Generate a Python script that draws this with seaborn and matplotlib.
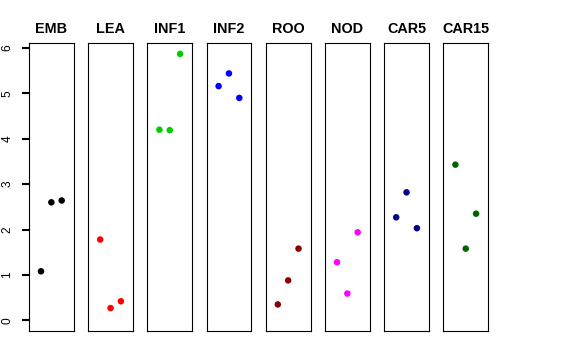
import numpy as np
import pandas as pd
import matplotlib
matplotlib.use("Agg")
import matplotlib.pyplot as plt
import seaborn as sns

# tissues and replicate values
tissues = ["EMB", "LEA", "INF1", "INF2", "ROO", "NOD", "CAR5", "CAR15"]
emb = [1.08, 2.60, 2.64]
lea = [1.78, 0.27, 0.42]
inf1 = [4.20, 4.19, 5.87]
inf2 = [5.16, 5.44, 4.90]
roo = [0.35, 0.88, 1.58]
nod = [1.28, 0.59, 1.94]
car5 = [2.27, 2.82, 2.03]
car15 = [3.43, 1.58, 2.35]
colors = ["black", "#FF0000", "#00CD00", "#0000FF", "#8B0000", "#FF00FF", "#00008B", "#006400"]
yticks = [0, 1, 2, 3, 4, 5, 6]

values = [emb, lea, inf1, inf2, roo, nod, car5, car15]
df = pd.DataFrame({
    "tissue": np.repeat(tissues, 3),
    "rep": np.tile([1, 2, 3], len(tissues)),
    "expr": np.concatenate(values),
})

sns.set_style("white")
plt.rcParams["font.family"] = ["Liberation Sans", "DejaVu Sans"]

W, H = 576, 360
fig = plt.figure(figsize=(W / 100, H / 100), dpi=100)

top_px, bot_px = 43, 331
for i, (t, c) in enumerate(zip(tissues, colors)):
    left_px = 29 + 59.2 * i
    ax = fig.add_axes([left_px / W, (H - bot_px) / H, 44.7 / W, (bot_px - top_px) / H])
    sns.scatterplot(data=df[df.tissue == t], x="rep", y="expr", color=c,
                    s=22, edgecolor="none", ax=ax, legend=False)
    ax.set_xlim(-0.16, 4.16)
    ax.set_ylim(-0.235, 6.11)
    ax.set_xticks([])
    ax.set_xlabel("")
    ax.set_ylabel("")
    ax.set_title(t, fontsize=10.4, fontweight="bold", pad=7, color="black")
    for sp in ax.spines.values():
        sp.set_visible(True)
        sp.set_color("black")
        sp.set_linewidth(0.8)
    if i == 0:
        ax.set_yticks(yticks)
        ax.set_yticklabels([str(v) for v in yticks], rotation=90, va="center",
                           fontsize=8.6, color="black")
        ax.tick_params(axis="y", left=True, length=5.2, width=1.5, color="black", pad=6)
    else:
        ax.set_yticks([])

fig.savefig("out.png", dpi=100)
